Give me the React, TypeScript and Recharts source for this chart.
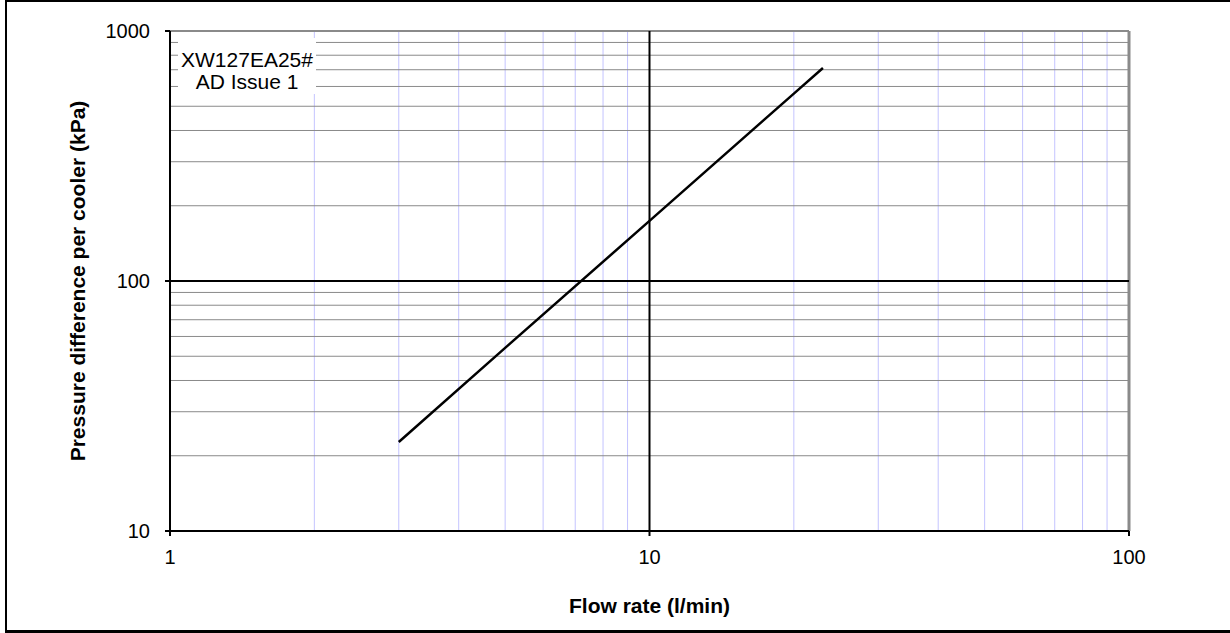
import React from 'react';
import { LineChart, Line, XAxis, YAxis, ReferenceLine, Label } from 'recharts';

const flowRate = [3, 5, 10, 20, 23];
const pressureDiff = [22.7, 54, 174, 562, 711];
const xTicks = [1, 10, 100];
const yTicks = [10, 100, 1000];
const xMinorGrid = [2, 3, 4, 5, 6, 7, 8, 9, 20, 30, 40, 50, 60, 70, 80, 90];
const yMinorGrid = [20, 30, 40, 50, 60, 70, 80, 90, 200, 300, 400, 500, 600, 700, 800, 900];
const xTitle = 'Flow rate (l/min)';
const yTitle = 'Pressure difference per cooler (kPa)';
const noteLines = ['XW127EA25#', 'AD Issue 1'];

const data = flowRate.map((f, i) => ({ flow: f, pressure: pressureDiff[i] }));

const FONT = '"Liberation Sans", Arial, sans-serif';

export default function App() {
  return (
    <div style={{ position: 'absolute', left: 0, top: 0, width: 1230, height: 633, background: '#fff', overflow: 'hidden' }}>
      <div style={{ position: 'absolute', left: 5, top: 0, width: 1225, height: 2, background: '#000' }} />
      <div style={{ position: 'absolute', left: 5, top: 0, width: 2, height: 633, background: '#000' }} />
      <div style={{ position: 'absolute', left: 5, top: 630, width: 1225, height: 3, background: '#000' }} />
      <div style={{ position: 'absolute', left: 0, top: 0 }}>
        <LineChart width={1230} height={633} data={data} margin={{ top: 31, right: 101, bottom: 62, left: 110 }}>
          <XAxis
            dataKey="flow"
            type="number"
            scale="log"
            domain={[1, 100]}
            ticks={xTicks}
            allowDataOverflow
            height={40}
            tickSize={5}
            tickMargin={14}
            tick={{ fill: '#000', fontSize: 20, fontFamily: FONT }}
            axisLine={{ stroke: '#000', strokeWidth: 2 }}
            tickLine={{ stroke: '#000', strokeWidth: 2 }}
          >
            <Label
              content={(props: any) => {
                const vb = props.viewBox || { x: 170, y: 531, width: 959, height: 40 };
                return (
                  <text x={vb.x + vb.width / 2} y={vb.y + vb.height + 42} textAnchor="middle" fontFamily={FONT} fontWeight="bold" fontSize={21} fill="#000">
                    {xTitle}
                  </text>
                );
              }}
            />
          </XAxis>
          <YAxis
            type="number"
            scale="log"
            domain={[10, 1000]}
            ticks={yTicks}
            allowDataOverflow
            width={60}
            tickSize={5}
            tickMargin={15}
            tick={{ fill: '#000', fontSize: 20, fontFamily: FONT }}
            axisLine={{ stroke: '#000', strokeWidth: 2 }}
            tickLine={{ stroke: '#000', strokeWidth: 2 }}
          >
            <Label
              content={(props: any) => {
                const vb = props.viewBox || { x: 110, y: 31, width: 60, height: 500 };
                const cx = vb.x - 33;
                const cy = vb.y + vb.height / 2;
                return (
                  <text x={cx} y={cy} transform={`rotate(-90, ${cx}, ${cy})`} textAnchor="middle" dominantBaseline="central" fontFamily={FONT} fontWeight="bold" fontSize={21} fill="#000">
                    {yTitle}
                  </text>
                );
              }}
            />
          </YAxis>
          {xMinorGrid.map((v) => (
            <ReferenceLine key={'vx' + v} x={v} stroke="#c4c4ff" strokeWidth={1} />
          ))}
          {yMinorGrid.map((v) => (
            <ReferenceLine key={'hy' + v} y={v} stroke="#8a8a8a" strokeWidth={1} />
          ))}
          <ReferenceLine y={1000} stroke="#8a8a8a" strokeWidth={2} />
          <ReferenceLine x={100} stroke="#8a8a8a" strokeWidth={3} />
          <ReferenceLine x={10} stroke="#000" strokeWidth={2} />
          <ReferenceLine y={100} stroke="#000" strokeWidth={2} />
          <Line dataKey="pressure" type="linear" stroke="#000" strokeWidth={2.5} dot={false} isAnimationActive={false} />
        </LineChart>
      </div>
      <div
        style={{
          position: 'absolute',
          left: 178,
          top: 38,
          width: 138,
          height: 56,
          background: '#fff',
          fontFamily: FONT,
          fontSize: 21,
          lineHeight: '22px',
          textAlign: 'center',
          paddingTop: 11,
          boxSizing: 'border-box',
          color: '#000',
        }}
      >
        {noteLines.map((t) => (
          <div key={t}>{t}</div>
        ))}
      </div>
    </div>
  );
}
